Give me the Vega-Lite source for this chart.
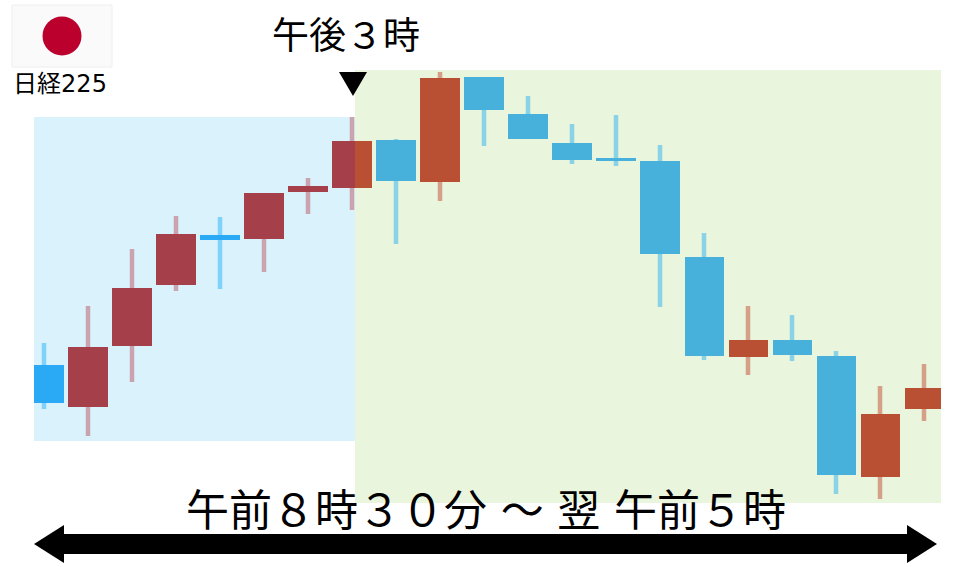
{"$schema":"https://vega.github.io/schema/vega-lite/v6.json","width":960,"height":567,"autosize":{"type":"fit","contains":"padding"},"padding":0,"background":"white","view":{"stroke":null},
"datasets":{
"zones":[{"x0":34,"x1":355,"top":117,"bottom":441,"zone":"blue"},{"x0":355,"x1":941,"top":70,"bottom":503,"zone":"green"}],
"candles":[
{"i":44,"x0":34,"x1":64,"open":403,"close":365,"high":343,"low":409,"k":"bl"},
{"i":88,"x0":68,"x1":108,"open":407,"close":347,"high":306,"low":436,"k":"rl"},
{"i":132,"x0":112,"x1":152,"open":346,"close":288,"high":249,"low":382,"k":"rl"},
{"i":176,"x0":156,"x1":196,"open":285,"close":234,"high":216,"low":291,"k":"rl"},
{"i":220,"x0":200,"x1":240,"open":240,"close":235,"high":217,"low":289,"k":"bl"},
{"i":264,"x0":244,"x1":284,"open":239,"close":193,"high":193,"low":272,"k":"rl"},
{"i":308,"x0":288,"x1":328,"open":192,"close":186,"high":178,"low":214,"k":"rl"},
{"i":352,"x0":332,"x1":355,"open":188,"close":141,"high":117,"low":210,"k":"rl"},
{"i":352,"x0":355,"x1":372,"open":188,"close":141,"k":"rr"},
{"i":396,"x0":376,"x1":416,"open":181,"close":140,"high":139,"low":244,"k":"br"},
{"i":440,"x0":420,"x1":460,"open":182,"close":78,"high":72,"low":201,"k":"rr"},
{"i":484,"x0":464,"x1":504,"open":110,"close":77,"high":77,"low":146,"k":"br"},
{"i":528,"x0":508,"x1":548,"open":139,"close":114,"high":96,"low":139,"k":"br"},
{"i":572,"x0":552,"x1":592,"open":160,"close":143,"high":124,"low":164,"k":"br"},
{"i":616,"x0":596,"x1":636,"open":161,"close":158,"high":115,"low":166,"k":"br"},
{"i":660,"x0":640,"x1":680,"open":254,"close":161,"high":145,"low":307,"k":"br"},
{"i":704,"x0":685,"x1":724,"open":356,"close":257,"high":233,"low":360,"k":"br"},
{"i":748,"x0":729,"x1":768,"open":357,"close":340,"high":306,"low":375,"k":"rr"},
{"i":792,"x0":773,"x1":812,"open":355,"close":340,"high":315,"low":361,"k":"br"},
{"i":836,"x0":817,"x1":856,"open":475,"close":356,"high":351,"low":494,"k":"br"},
{"i":880,"x0":861,"x1":900,"open":477,"close":414,"high":386,"low":499,"k":"rr"},
{"i":924,"x0":905,"x1":941,"open":409,"close":388,"high":364,"low":421,"k":"rr"}],
"heads":[
{"g":"l","x":34,"a":544,"b":544},{"g":"l","x":64,"a":525,"b":563},
{"g":"r","x":907,"a":525,"b":563},{"g":"r","x":937,"a":544,"b":544},
{"g":"m","x":339,"a":72,"b":72},{"g":"m","x":353,"a":72,"b":96},{"g":"m","x":367,"a":72,"b":72}]
},
"encoding":{},
"layer":[
{"data":{"name":"zones"},"mark":{"type":"rect"},"encoding":{
"x":{"field":"x0","type":"quantitative","scale":{"domain":[0,960],"nice":false,"zero":false},"axis":null},"x2":{"field":"x1"},
"y":{"field":"top","type":"quantitative","scale":{"domain":[567,0],"nice":false,"zero":false},"axis":null},"y2":{"field":"bottom"},
"color":{"field":"zone","type":"nominal","legend":null,"scale":{"domain":["blue","green"],"range":["#d9f2fc","#e9f5dd"]}}}},
{"data":{"name":"candles"},"transform":[{"filter":"isValid(datum.high)"}],"mark":{"type":"rule","strokeWidth":4.5},"encoding":{
"x":{"field":"i","type":"quantitative"},
"y":{"field":"high","type":"quantitative"},"y2":{"field":"low"},
"stroke":{"field":"k","type":"nominal","legend":null,"scale":{"domain":["bl","rl","br","rr"],"range":["#7fd3fb","#c9a3ae","#8ad2e6","#d6a088"]}}}},
{"data":{"name":"candles"},"mark":{"type":"rect"},"encoding":{
"x":{"field":"x0","type":"quantitative"},"x2":{"field":"x1"},
"y":{"field":"close","type":"quantitative"},"y2":{"field":"open"},
"fill":{"field":"k","type":"nominal","legend":null,"scale":{"domain":["bl","rl","br","rr"],"range":["#2aa9f5","#a5404a","#47b0db","#b95033"]}}}},
{"data":{"values":[{"x0":12,"x1":112,"top":5,"bottom":67}]},"mark":{"type":"rect","fill":"#fafafa","stroke":"#eeeeee","strokeWidth":1},"encoding":{
"x":{"field":"x0","type":"quantitative"},"x2":{"field":"x1"},"y":{"field":"top","type":"quantitative"},"y2":{"field":"bottom"}}},
{"data":{"values":[{"x":62,"y":36}]},"mark":{"type":"point","shape":"circle","filled":true,"fill":"#bc002d","opacity":1,"size":1521},"encoding":{
"x":{"field":"x","type":"quantitative"},"y":{"field":"y","type":"quantitative"}}},
{"data":{"values":[{"x0":64,"x1":907,"top":534,"bottom":554}]},"mark":{"type":"rect","fill":"#000000"},"encoding":{
"x":{"field":"x0","type":"quantitative"},"x2":{"field":"x1"},"y":{"field":"top","type":"quantitative"},"y2":{"field":"bottom"}}},
{"data":{"name":"heads"},"mark":{"type":"area","color":"#000000","opacity":1},"encoding":{
"x":{"field":"x","type":"quantitative"},"y":{"field":"a","type":"quantitative"},"y2":{"field":"b"},"detail":{"field":"g"}}},
{"data":{"values":[{"x":346,"y":38,"t":"午後３時"}]},"mark":{"type":"text","fontSize":37,"font":"DejaVu Sans, Noto Sans CJK JP","color":"#000000","align":"center","baseline":"middle"},"encoding":{
"x":{"field":"x","type":"quantitative"},"y":{"field":"y","type":"quantitative"},"text":{"field":"t"}}},
{"data":{"values":[{"x":60,"y":85,"t":"日経225"}]},"mark":{"type":"text","fontSize":24,"font":"DejaVu Sans, Noto Sans CJK JP","color":"#000000","align":"center","baseline":"middle"},"encoding":{
"x":{"field":"x","type":"quantitative"},"y":{"field":"y","type":"quantitative"},"text":{"field":"t"}}},
{"data":{"values":[{"x":486,"y":513,"t":"午前８時３０分 ～ 翌 午前５時"}]},"mark":{"type":"text","fontSize":43,"font":"DejaVu Sans, Noto Sans CJK JP","color":"#000000","align":"center","baseline":"middle"},"encoding":{
"x":{"field":"x","type":"quantitative"},"y":{"field":"y","type":"quantitative"},"text":{"field":"t"}}}
],
"config":{"style":{"cell":{"stroke":null}}}}
